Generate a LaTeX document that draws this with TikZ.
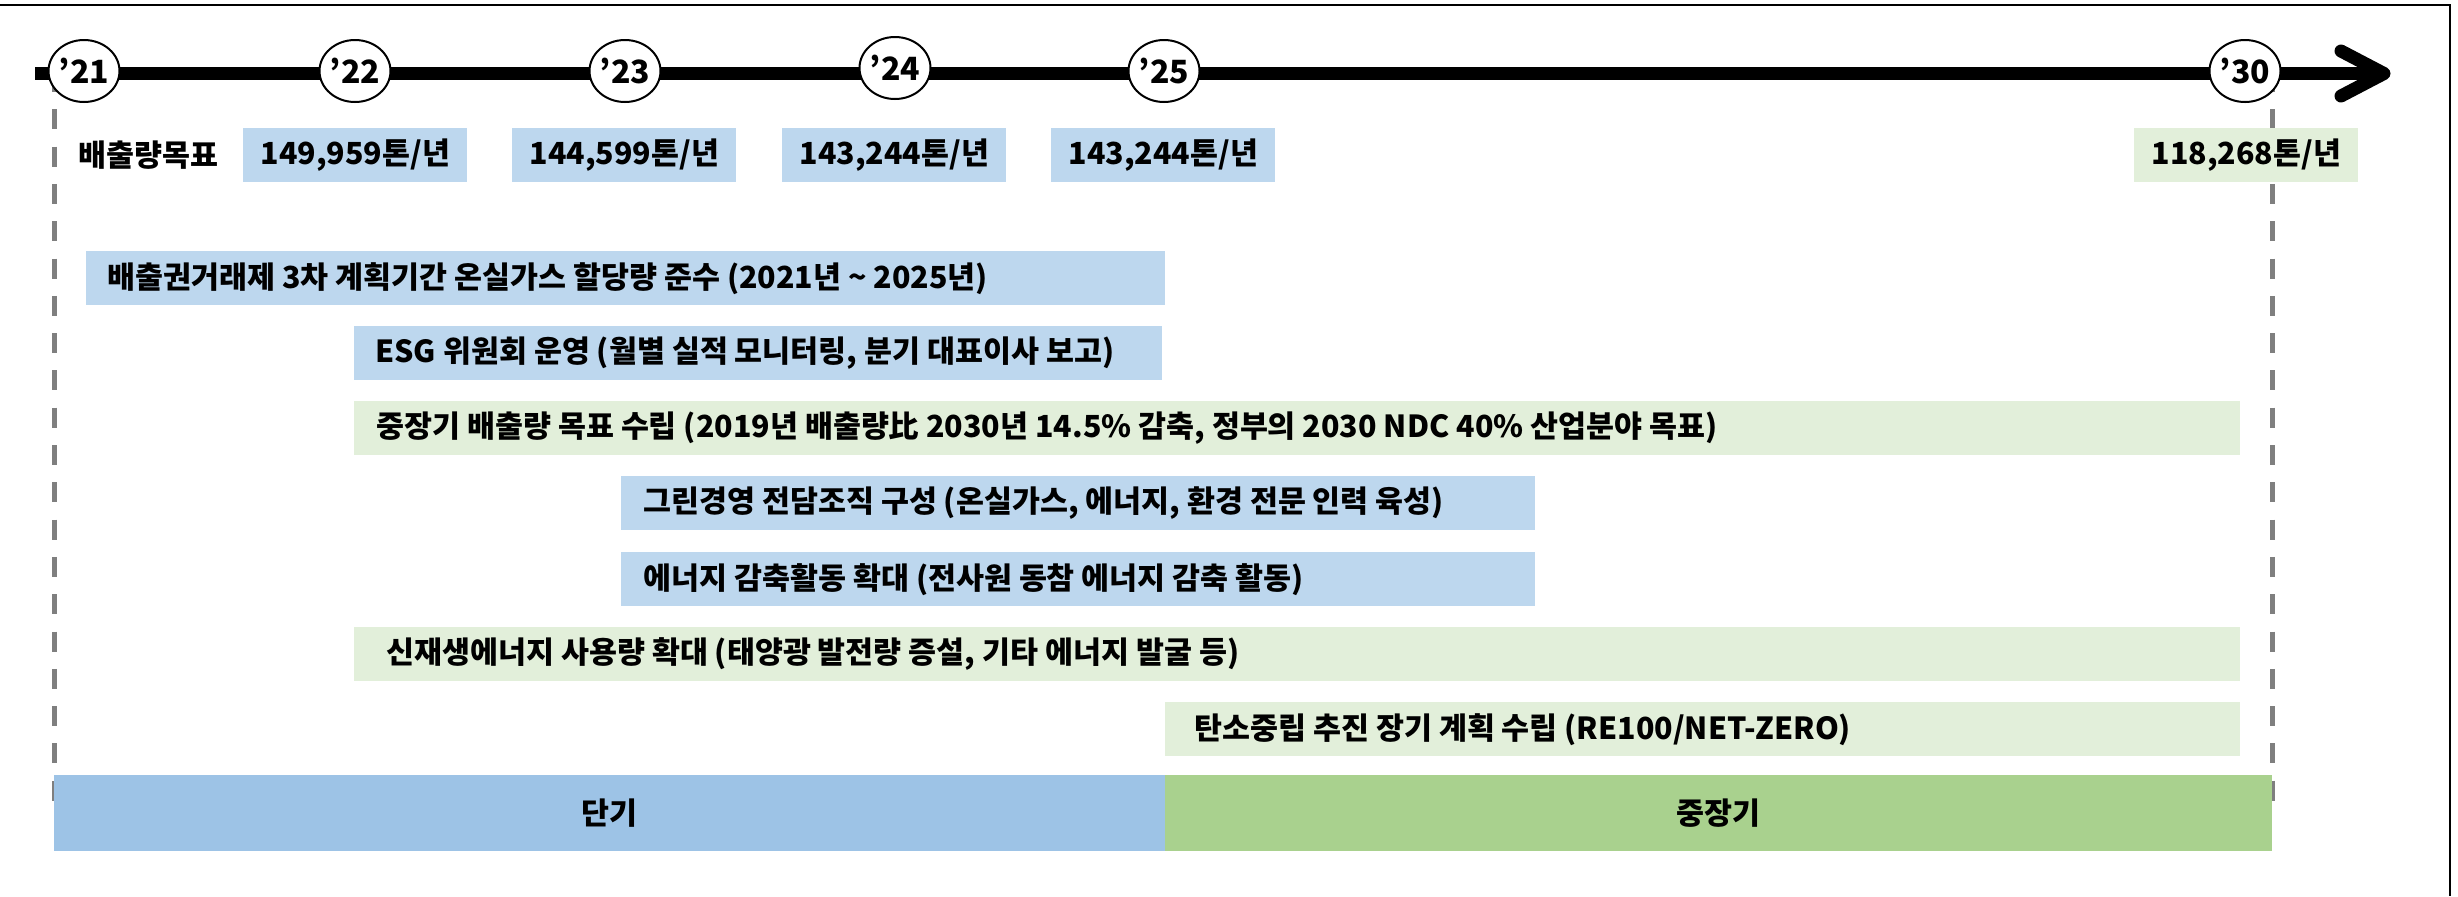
\documentclass[tikz,border=0pt]{standalone}
\usepackage{fontspec}
\newfontfamily\kr{Noto Sans CJK KR}
\usetikzlibrary{shapes.geometric}
\definecolor{lblue}{HTML}{BDD7EE}
\definecolor{lgreen}{HTML}{E2EFDA}
\definecolor{dblue}{HTML}{9DC3E6}
\definecolor{dgreen}{HTML}{A9D18E}
\definecolor{dgray}{HTML}{7F7F7F}
\newcommand{\tfont}{\kr\bfseries\fontsize{15.2pt}{18pt}\selectfont}
\newcommand{\yfont}{\kr\bfseries\fontsize{16pt}{18pt}\selectfont}
\tikzset{
  box/.style={draw=none, inner sep=0pt, minimum height=27pt, anchor=north west},
  bluebox/.style={box, fill=lblue},
  greenbox/.style={box, fill=lgreen},
  valbox/.style={box, minimum width=112pt},
  phase/.style={draw=none, inner sep=0pt, minimum height=38pt, anchor=north west, font=\tfont},
  lbl/.style={inner sep=0pt, anchor=west, font=\tfont, text=black},
  yearnode/.style={ellipse, draw=black, line width=1pt, fill=white, minimum width=29pt, minimum height=31pt, inner sep=0pt, font=\yfont},
  guide/.style={draw=dgray, line width=2.5pt, dash pattern=on 10pt off 8.65pt},
}
\begin{document}
\begin{tikzpicture}[x=0.5pt,y=-0.5pt]
\useasboundingbox (0,0) rectangle (2458,896);
% frame
\coordinate (fa) at (0,5);
\coordinate (fb) at (2450,5);
\coordinate (fc) at (2450,896);
\draw[line width=1.2pt] (fa) -- (fb) -- (fc);
% timeline
\coordinate (tl0) at (35,73.5);
\coordinate (tl1) at (2384,73.5);
\coordinate (aw1) at (2341,51);
\coordinate (aw2) at (2341,96);
\draw[line width=6.5pt] (tl0) -- (tl1);
\draw[line width=6.5pt, line cap=round, line join=round] (aw1) -- (tl1) -- (aw2);
% guides
\coordinate (g1a) at (54.5,72);
\coordinate (g1b) at (54.5,802);
\coordinate (g2a) at (2272,72);
\coordinate (g2b) at (2272,802);
\draw[guide] (g1a) -- (g1b);
\draw[guide] (g2a) -- (g2b);
% years
\node[yearnode] (y21) at (84,71) {’21};
\node[yearnode] (y22) at (355,71) {’22};
\node[yearnode] (y23) at (625,71) {’23};
\node[yearnode] (y24) at (895,68) {’24};
\node[yearnode] (y25) at (1164,71) {’25};
\node[yearnode] (y30) at (2245,71) {’30};
% emission targets
\node[lbl] (tgt) at (78,155) {배출량목표};
\node[valbox, fill=lblue] (v22) at (243,128) {};
\node[font=\tfont, inner sep=0pt] (v22t) at (v22.center) {149,959톤/년};
\node[valbox, fill=lblue] (v23) at (512,128) {};
\node[font=\tfont, inner sep=0pt] (v23t) at (v23.center) {144,599톤/년};
\node[valbox, fill=lblue] (v24) at (782,128) {};
\node[font=\tfont, inner sep=0pt] (v24t) at (v24.center) {143,244톤/년};
\node[valbox, fill=lblue] (v25) at (1051,128) {};
\node[font=\tfont, inner sep=0pt] (v25t) at (v25.center) {143,244톤/년};
\node[valbox, fill=lgreen] (v30) at (2134,128) {};
\node[font=\tfont, inner sep=0pt] (v30t) at (v30.center) {118,268톤/년};
% activities
\node[bluebox, minimum width=539.5pt] (b1) at (86,251) {};
\node[lbl] (t1) at ([xshift=10.5pt]b1.west) {배출권거래제 3차 계획기간 온실가스 할당량 준수 (2021년 \textasciitilde{} 2025년)};
\node[bluebox, minimum width=404pt] (b2) at (354,326) {};
\node[lbl] (t2) at ([xshift=10.5pt]b2.west) {ESG 위원회 운영 (월별 실적 모니터링, 분기 대표이사 보고)};
\node[greenbox, minimum width=943pt] (b3) at (354,401) {};
\node[lbl] (t3) at ([xshift=11pt]b3.west) {중장기 배출량 목표 수립 (2019년 배출량比 2030년 14.5\% 감축, 정부의 2030 NDC 40\% 산업분야 목표)};
\node[bluebox, minimum width=457pt] (b4) at (621,476) {};
\node[lbl] (t4) at ([xshift=11pt]b4.west) {그린경영 전담조직 구성 (온실가스, 에너지, 환경 전문 인력 육성)};
\node[bluebox, minimum width=457pt] (b5) at (621,552) {};
\node[lbl] (t5) at ([xshift=11pt]b5.west) {에너지 감축활동 확대 (전사원 동참 에너지 감축 활동)};
\node[greenbox, minimum width=943pt] (b6) at (354,627) {};
\node[lbl] (t6) at ([xshift=16pt]b6.west) {신재생에너지 사용량 확대 (태양광 발전량 증설, 기타 에너지 발굴 등)};
\node[greenbox, minimum width=537.5pt] (b7) at (1165,702) {};
\node[lbl] (t7) at ([xshift=14.5pt]b7.west) {탄소중립 추진 장기 계획 수립 (RE100/NET-ZERO)};
% phases
\node[phase, fill=dblue, minimum width=555.5pt] (ph1) at (54,775) {};
\node[font=\tfont, inner sep=0pt] (ph1t) at (ph1.center) {단기};
\node[phase, fill=dgreen, minimum width=553.5pt] (ph2) at (1165,775) {};
\node[font=\tfont, inner sep=0pt] (ph2t) at (ph2.center) {중장기};
\end{tikzpicture}
\end{document}
